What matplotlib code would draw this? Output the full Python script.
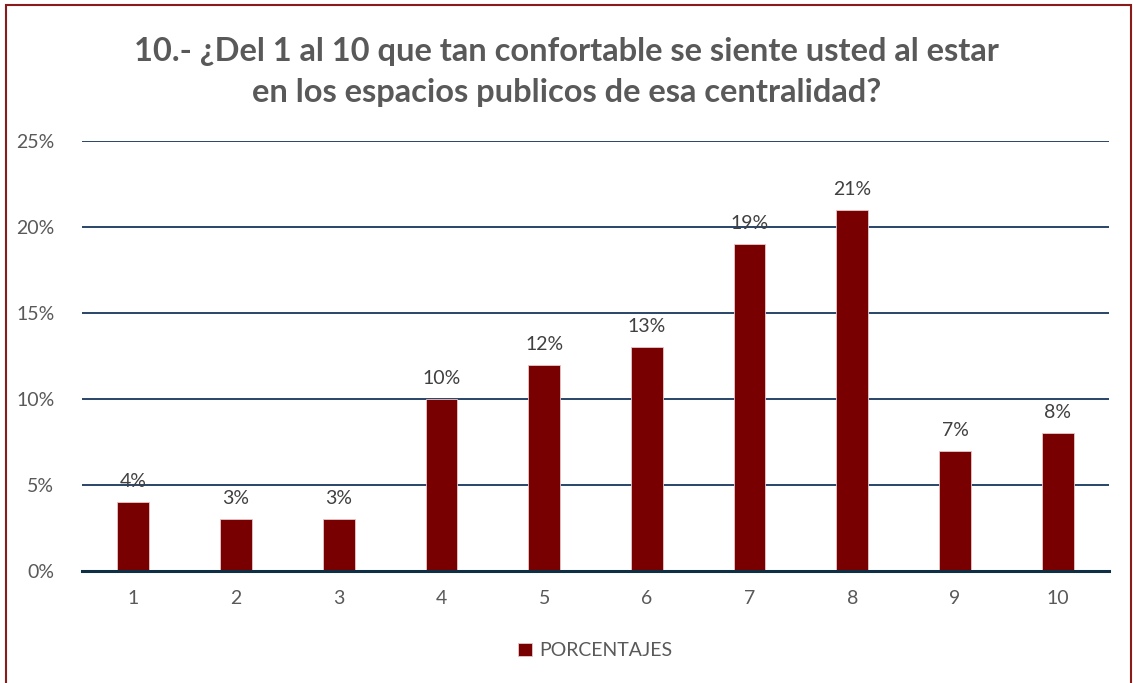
import matplotlib.pyplot as plt
from matplotlib.patches import Rectangle

categorias = ['1', '2', '3', '4', '5', '6', '7', '8', '9', '10']
porcentajes = [4, 3, 3, 10, 12, 13, 19, 21, 7, 8]
titulo = '10.- ¿Del 1 al 10 que tan confortable se siente usted al estar\nen los espacios publicos de esa centralidad?'

plt.rcParams['font.family'] = ['Lato', 'DejaVu Sans']

fig = plt.figure(figsize=(11.33, 6.83), dpi=100)
ax = fig.add_axes([0.0724, 0.164, 0.9064, 0.6296])

x = range(len(categorias))
ax.bar(x, porcentajes, width=0.31, color='#780000', edgecolor='#e8c8c8', linewidth=0.6,
       label='PORCENTAJES', zorder=3)

for i, v in enumerate(porcentajes):
    ax.text(i, v + 0.7, '{}%'.format(v), ha='center', va='bottom', fontsize=14,
            color='#404040', zorder=4)

ax.set_xlim(-0.5, len(categorias) - 0.5)
ax.set_ylim(0, 25)
ax.set_yticks([0, 5, 10, 15, 20, 25])
ax.set_yticklabels(['{}%'.format(t) for t in [0, 5, 10, 15, 20, 25]])
ax.set_xticks(list(x))
ax.set_xticklabels(categorias)
ax.tick_params(length=0, labelsize=14, labelcolor='#595959')
ax.tick_params(axis='y', pad=20)
ax.tick_params(axis='x', pad=14)
ax.grid(axis='y', color='#17375e', linewidth=1.3, zorder=1)
for s in ['top', 'right', 'left']:
    ax.spines[s].set_visible(False)
ax.spines['bottom'].set_color('#0f2f45')
ax.spines['bottom'].set_linewidth(2.2)
ax.spines['bottom'].set_zorder(5)

fig.text(0.5, 0.895, titulo, ha='center', va='center', fontsize=23.5, fontweight='bold',
         color='#595959', linespacing=1.5)

ax.legend(loc='upper center', bbox_to_anchor=(0.5, -0.125), frameon=False, fontsize=14,
          handlelength=0.7, handleheight=0.7, handletextpad=0.4, labelcolor='#595959')

fig.patches.append(Rectangle((0.005, -0.01), 0.993, 1.003, transform=fig.transFigure,
                             fill=False, edgecolor='#8b1a1a', linewidth=1.5))

fig.savefig('out.png', dpi=100)
